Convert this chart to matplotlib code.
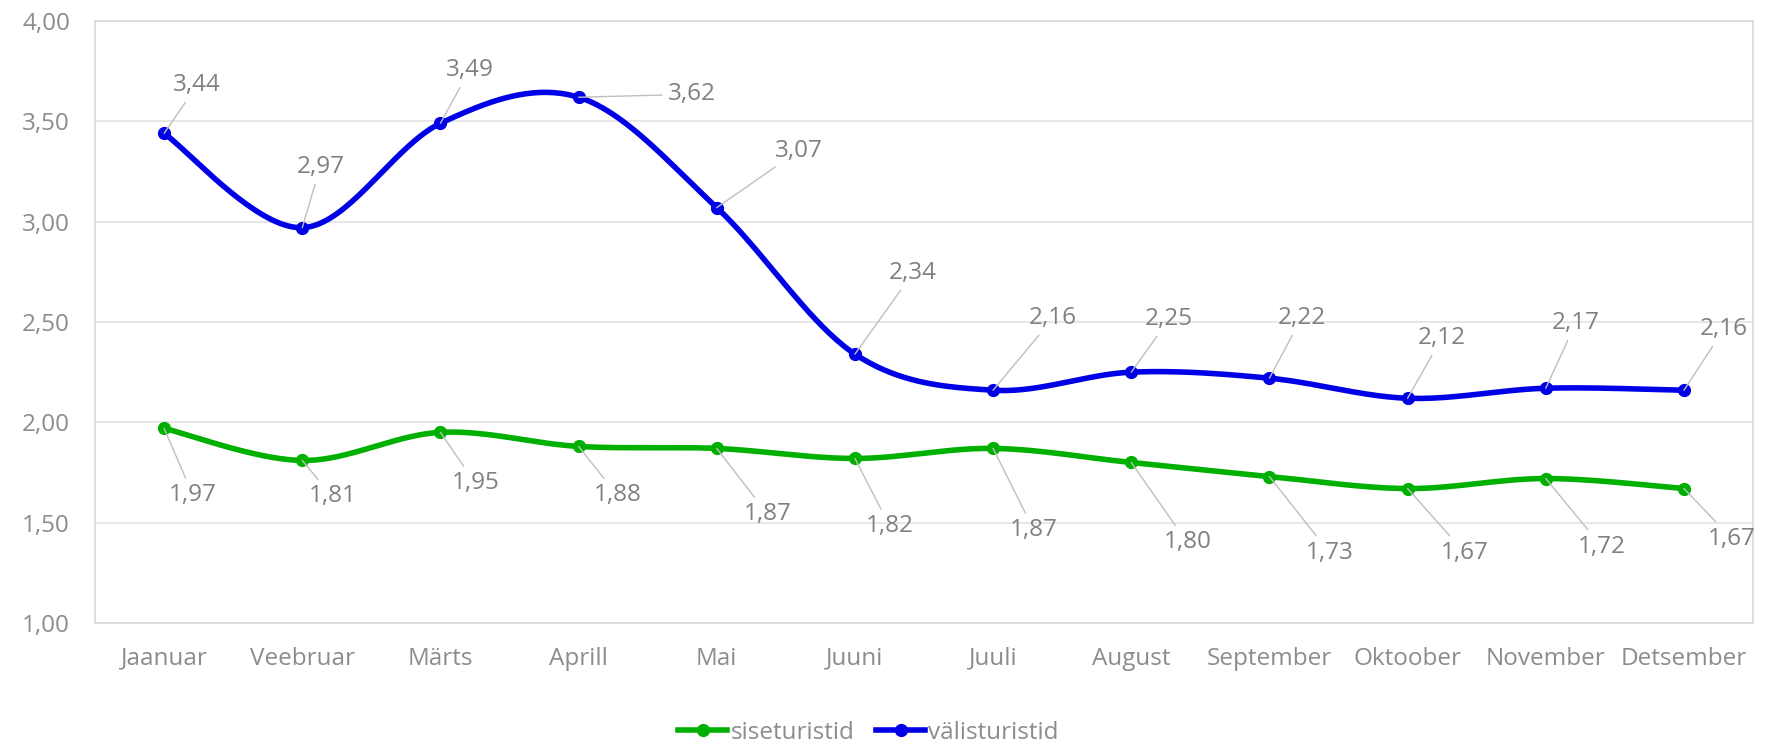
import matplotlib.pyplot as plt
from matplotlib.lines import Line2D
import numpy as np

plt.rcParams['font.family'] = ['Open Sans', 'DejaVu Sans']

months = ["Jaanuar", "Veebruar", "Märts", "Aprill", "Mai", "Juuni",
          "Juuli", "August", "September", "Oktoober", "November", "Detsember"]
siseturistid = [1.97, 1.81, 1.95, 1.88, 1.87, 1.82, 1.87, 1.80, 1.73, 1.67, 1.72, 1.67]
valisturistid = [3.44, 2.97, 3.49, 3.62, 3.07, 2.34, 2.16, 2.25, 2.22, 2.12, 2.17, 2.16]
yticks = [1.0, 1.5, 2.0, 2.5, 3.0, 3.5, 4.0]

# label offsets in pixels (dx right, dy down) - approx from the picture
blue_off = [(33, -48), (18, -61), (29, -53), (113, -3), (82, -57), (58, -81),
            (60, -72), (38, -53), (32, -60), (34, -60), (30, -65), (40, -61)]
green_off = [(29, 67), (30, 36), (35, 51), (39, 49), (51, 66), (35, 68),
             (41, 82), (56, 80), (60, 76), (57, 64), (56, 68), (48, 50)]

GREEN = '#00b000'
BLUE = '#0000e6'
GRID = '#d9d9d9'
TXT = '#8c8c8c'


def smooth(y, n=40):
    # excel-like bezier smoothing (catmull-rom control points)
    x = np.arange(len(y), dtype=float)
    y = np.asarray(y, dtype=float)
    px = np.concatenate([[x[0]], x, [x[-1]]])
    py = np.concatenate([[y[0]], y, [y[-1]]])
    xs, ys = [], []
    t = np.linspace(0, 1, n)
    for i in range(len(x) - 1):
        p0 = np.array([px[i + 1], py[i + 1]])
        p3 = np.array([px[i + 2], py[i + 2]])
        c1 = p0 + (np.array([px[i + 2], py[i + 2]]) - np.array([px[i], py[i]])) / 6
        c2 = p3 - (np.array([px[i + 3], py[i + 3]]) - np.array([px[i + 1], py[i + 1]])) / 6
        b = ((1 - t) ** 3)[:, None] * p0 + (3 * (1 - t) ** 2 * t)[:, None] * c1 \
            + (3 * (1 - t) * t ** 2)[:, None] * c2 + (t ** 3)[:, None] * p3
        xs.extend(b[:, 0])
        ys.extend(b[:, 1])
    return np.array(xs), np.array(ys)


fig = plt.figure(figsize=(17.69, 7.47), dpi=100)
ax = fig.add_axes([95 / 1769, 124 / 747, 1658 / 1769, 602 / 747])

for vals, col, offs in [(siseturistid, GREEN, green_off), (valisturistid, BLUE, blue_off)]:
    sx, sy = smooth(vals)
    ax.plot(sx, sy, color=col, lw=4, solid_capstyle='round', zorder=3)
    ax.plot(range(len(vals)), vals, 'o', color=col, ms=8.5, zorder=4)
    for i, v in enumerate(vals):
        dx, dy = offs[i]
        ax.annotate(f"{v:.2f}".replace('.', ','), xy=(i, v), xytext=(dx, -dy),
                    textcoords='offset pixels', ha='center', va='center',
                    fontsize=17.5, color='#808080', zorder=5, annotation_clip=False,
                    arrowprops=dict(arrowstyle='-', color='#bfbfbf', lw=1,
                                    shrinkA=2, shrinkB=0))

ax.set_xlim(-0.5, 11.5)
ax.set_ylim(1.0, 4.0)
ax.set_yticks(yticks)
ax.set_yticklabels([f"{v:.2f}".replace('.', ',') for v in yticks])
ax.set_xticks(range(len(months)))
ax.set_xticklabels(months)
ax.tick_params(length=0, labelsize=17.5, labelcolor=TXT)
ax.tick_params(axis='y', pad=18)
ax.tick_params(axis='x', pad=17)
ax.grid(axis='y', color='#e3e3e3', lw=1.2)
ax.set_axisbelow(True)
for s in ax.spines.values():
    s.set_color(GRID)
    s.set_linewidth(1.2)

handles = [Line2D([], [], color=GREEN, lw=4, marker='o', ms=8.5),
           Line2D([], [], color=BLUE, lw=4, marker='o', ms=8.5)]
fig.legend(handles, ["siseturistid", "välisturistid"], loc='center',
           bbox_to_anchor=(0.491, 1 - 733 / 747), ncol=2, frameon=False,
           fontsize=17.5, labelcolor=TXT, handlelength=2.0, handletextpad=0.15,
           columnspacing=0.9)

fig.savefig('out.png', dpi=100)
